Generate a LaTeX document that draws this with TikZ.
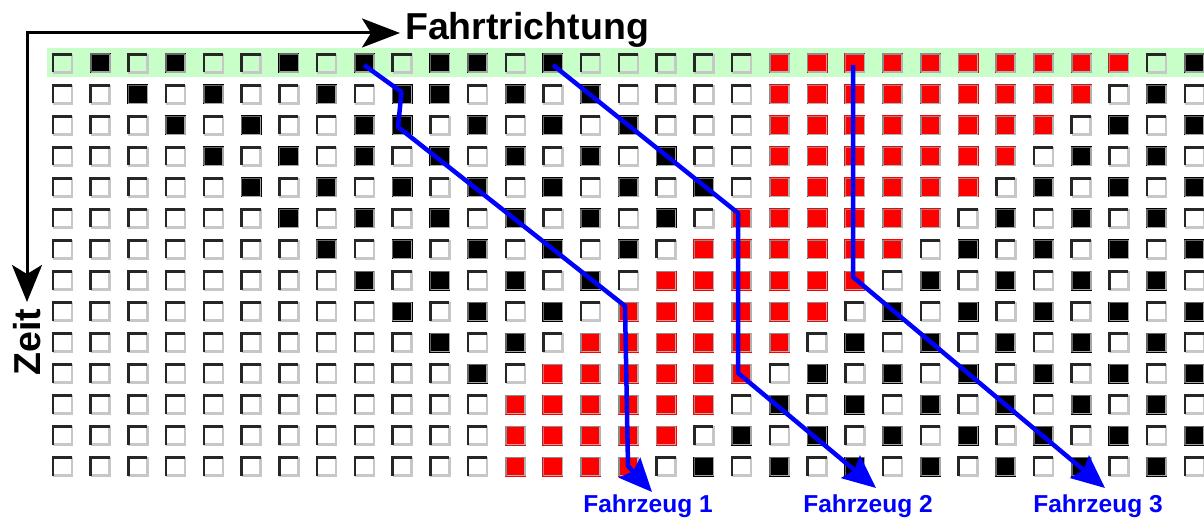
\documentclass[tikz,border=0pt]{standalone}
\usepackage{fontspec}
\setmainfont{Liberation Sans}
\usetikzlibrary{arrows.meta}
\definecolor{band}{RGB}{200,255,200}
\definecolor{cellred}{RGB}{255,0,0}
\definecolor{vblue}{RGB}{0,0,255}
\tikzset{
  cellE/.style={},
  cellB/.style={fill=black},
  cellR/.style={fill=cellred},
  dkE/.style={draw=black!85, line width=2.5pt},
  dkB/.style={draw=black!60, line width=1.6pt},
  dkR/.style={draw=black!45, line width=1.6pt},
  ltE/.style={draw=black!22, line width=2.5pt},
  ltB/.style={draw=black!35, line width=1.6pt},
  ltR/.style={draw=black!30, line width=1.6pt},
  axis/.style={line width=3pt, black, {Stealth[length=37pt,width=30pt,inset=9pt]}-{Stealth[length=38pt,width=29pt,inset=9pt]}},
  vpath/.style={line width=4.5pt, vblue, line join=round, -{Stealth[length=33pt,width=29pt,inset=5pt]}},
  vlabel/.style={text=vblue, font=\bfseries\fontsize{24.5}{26}\selectfont, anchor=base, inner sep=0pt},
  bigtext/.style={font=\bfseries\fontsize{37.5}{40}\selectfont, inner sep=0pt}
}
\begin{document}
\begin{tikzpicture}[x=1pt,y=-1pt]
\useasboundingbox (0,0) rectangle (1204,521);
\fill[white] (0,0) rectangle (1204,521);
% green band
\fill[band] (47,48.3) rectangle (1204,76.7);
% grid
\foreach \row [count=\r from 0] in {
 {E,B,E,B,E,E,B,E,B,E,B,B,E,B,E,E,E,E,E,R,R,R,R,R,R,R,R,R,R,E,B},
 {E,E,B,E,B,E,E,B,E,B,B,E,B,E,B,E,E,E,E,R,R,R,R,R,R,R,R,R,E,B,E},
 {E,E,E,B,E,B,E,E,B,B,E,B,E,B,E,B,E,E,E,R,R,R,R,R,R,R,R,E,B,E,B},
 {E,E,E,E,B,E,B,E,B,E,B,E,B,E,B,E,B,E,E,R,R,R,R,R,R,R,E,B,E,B,E},
 {E,E,E,E,E,B,E,B,E,B,E,B,E,B,E,B,E,B,E,R,R,R,R,R,R,E,B,E,B,E,B},
 {E,E,E,E,E,E,B,E,B,E,B,E,B,E,B,E,B,E,R,R,R,R,R,R,E,B,E,B,E,B,E},
 {E,E,E,E,E,E,E,B,E,B,E,B,E,B,E,B,E,R,R,R,R,R,R,E,B,E,B,E,B,E,B},
 {E,E,E,E,E,E,E,E,B,E,B,E,B,E,B,E,R,R,R,R,R,R,E,B,E,B,E,B,E,B,E},
 {E,E,E,E,E,E,E,E,E,B,E,B,E,B,E,R,R,R,R,R,R,E,B,E,B,E,B,E,B,E,B},
 {E,E,E,E,E,E,E,E,E,E,B,E,B,E,R,R,R,R,R,R,E,B,E,B,E,B,E,B,E,B,E},
 {E,E,E,E,E,E,E,E,E,E,E,B,E,R,R,R,R,R,R,E,B,E,B,E,B,E,B,E,B,E,B},
 {E,E,E,E,E,E,E,E,E,E,E,E,R,R,R,R,R,R,E,B,E,B,E,B,E,B,E,B,E,B,E},
 {E,E,E,E,E,E,E,E,E,E,E,E,R,R,R,R,R,E,B,E,B,E,B,E,B,E,B,E,B,E,B},
 {E,E,E,E,E,E,E,E,E,E,E,E,R,R,R,R,E,B,E,B,E,B,E,B,E,B,E,B,E,B,E}} {
  \foreach \v [count=\c from 0] in \row {
    \pgfmathsetmacro\cx{62.5+37.73*\c}
    \pgfmathsetmacro\cy{63.3+31.03*\r}
    \begin{scope}[shift={(\cx,\cy)}]
      \path[cell\v] (-10.5,-10) rectangle (10.5,10);
      \draw[lt\v] (-9.5,9) -- (9.5,9) -- (9.5,-9.5);
      \draw[dk\v] (-9.5,9) -- (-9.5,-9) -- (9.5,-9);
    \end{scope}
  }
}
% axes
\coordinate (corner) at (27,33);
\coordinate (xend) at (400,33);
\coordinate (tend) at (27,302);
\draw[axis] (tend) -- (corner) -- (xend);
\node[bigtext, anchor=base west] (fr) at (405,40) {Fahrtrichtung};
\node[bigtext, rotate=90] (zeit) at (27,342) {Zeit};
% vehicle 1
\coordinate (a0) at (364,65);
\coordinate (a1) at (401.5,92);
\coordinate (a2) at (398,127);
\coordinate (a3) at (625,306);
\coordinate (a4) at (628,466);
\coordinate (a5) at (652,492);
\draw[vpath] (a0) -- (a1) -- (a2) -- (a3) -- (a4) -- (a5);
% vehicle 2
\coordinate (b0) at (553,65);
\coordinate (b1) at (738,213);
\coordinate (b2) at (738,373);
\coordinate (b3) at (876,488);
\draw[vpath] (b0) -- (b1) -- (b2) -- (b3);
% vehicle 3
\coordinate (c0) at (853,65);
\coordinate (c1) at (853,277);
\coordinate (c2) at (1105,488);
\draw[vpath] (c0) -- (c1) -- (c2);
% labels
\node[vlabel] (l1) at (648,512) {Fahrzeug 1};
\node[vlabel] (l2) at (868,512) {Fahrzeug 2};
\node[vlabel] (l3) at (1098,512) {Fahrzeug 3};
\end{tikzpicture}
\end{document}
